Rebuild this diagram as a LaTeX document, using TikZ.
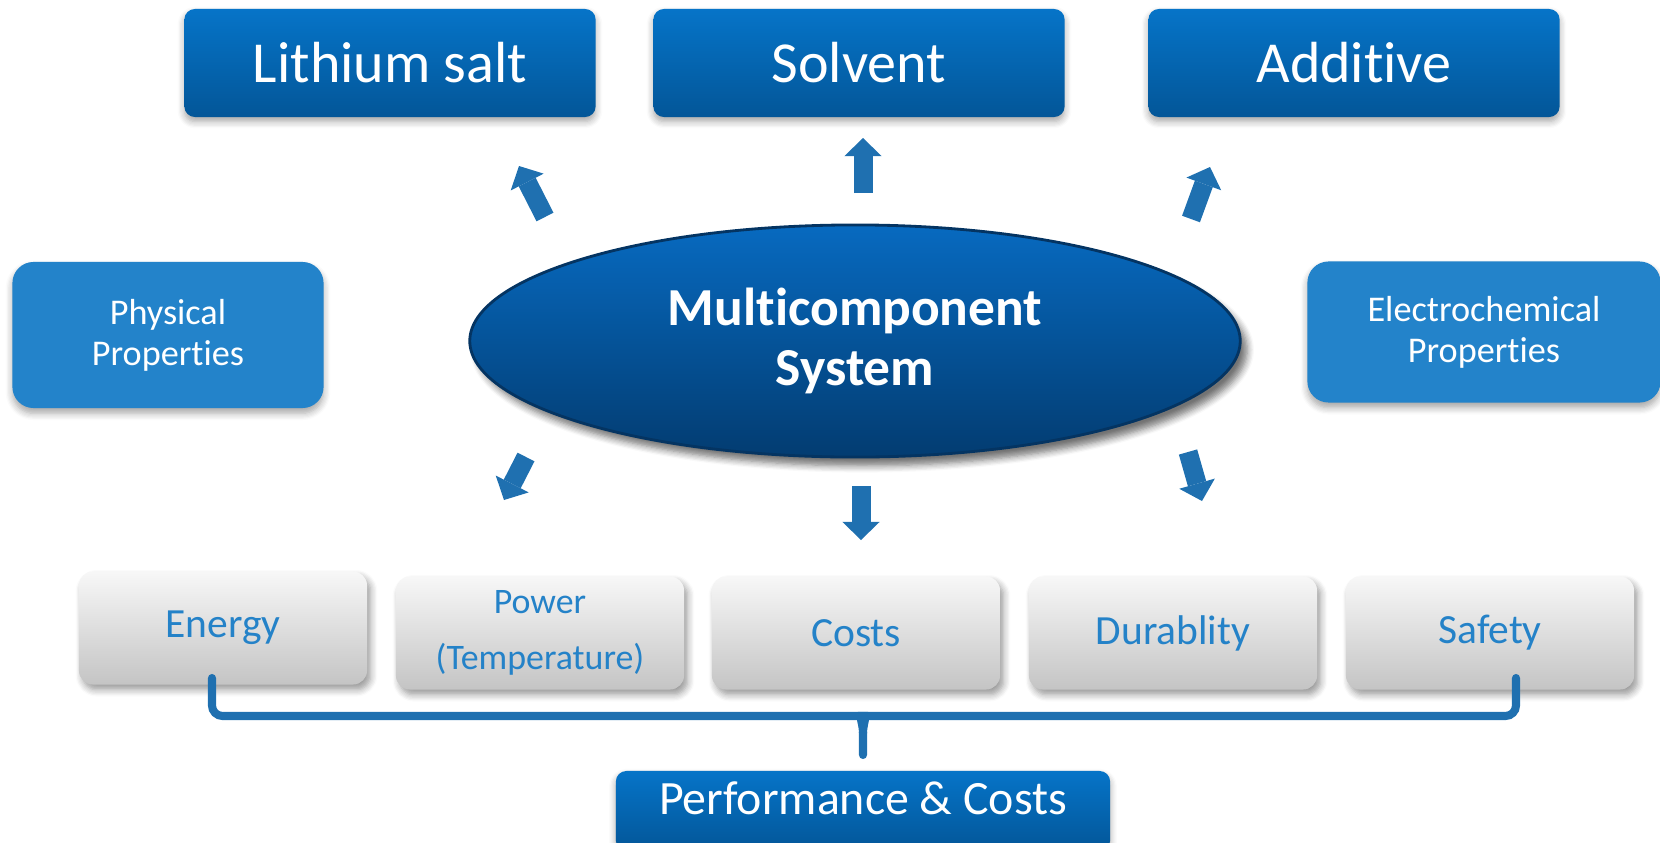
\documentclass[tikz,border=0pt]{standalone}
\usepackage{fontspec}
\setmainfont{Carlito}[Ligatures=NoCommon]
\usepackage{tkz-euclide}
\usetikzlibrary{arrows.meta,shapes.geometric,shadows.blur}
\definecolor{headlight}{RGB}{6,116,200}
\definecolor{headdark}{RGB}{3,86,152}
\definecolor{ovaltop}{RGB}{7,106,192}
\definecolor{ovalbottom}{RGB}{3,60,113}
\definecolor{ovalrim}{RGB}{4,52,98}
\definecolor{propblue}{RGB}{35,131,202}
\definecolor{arrowblue}{RGB}{31,112,176}
\definecolor{labelblue}{RGB}{36,130,200}

\begin{document}
\begin{tikzpicture}[x=0.01cm,y=0.01cm,
  comp/.style={rounded corners=3pt,top color=headlight,bottom color=headdark,text=white,
    minimum width=4.11cm,minimum height=1.08cm,inner sep=0pt,font=\fontsize{16.5}{20}\selectfont,
    blur shadow={shadow xshift=0pt,shadow yshift=-1.3pt,shadow opacity=35,shadow blur steps=6}},
  oval/.style={ellipse,minimum width=7.7cm,minimum height=2.32cm,inner sep=0pt,
    top color=ovaltop,bottom color=ovalbottom,draw=ovalrim,line width=0.8pt,text=white,align=center,
    font=\bfseries\fontsize{15.2}{17.3}\selectfont,
    blur shadow={shadow xshift=2pt,shadow yshift=-2.5pt,shadow opacity=55,shadow blur steps=6}},
  prop/.style={rounded corners=6pt,fill=propblue,text=white,align=center,inner sep=0pt,
    font=\fontsize{10.3}{11.6}\selectfont,
    blur shadow={shadow xshift=0pt,shadow yshift=-1.5pt,shadow opacity=35,shadow blur steps=6}},
  crit/.style={rounded corners=4pt,top color=black!3,bottom color=black!23,text=labelblue,
    minimum width=2.88cm,minimum height=1.13cm,inner sep=0pt,align=center,font=\fontsize{11.8}{14}\selectfont,
    blur shadow={shadow xshift=1pt,shadow yshift=-1.5pt,shadow opacity=40,shadow blur steps=6}},
  blockarrow/.style={draw=arrowblue,line width=0.19cm,-{Triangle[length=0.18cm,width=0.37cm,line width=0pt]}},
  brace/.style={draw=arrowblue,line width=2.3pt,line cap=round}]
\useasboundingbox (0,0) rectangle (1660,-842);
\node[comp] (salt) at (390,-63) {Lithium salt};
\node[comp] (solvent) at (859,-63) {Solvent};
\node[comp] (additive) at (1354,-63) {Additive};
\node[prop,minimum width=3.11cm,minimum height=1.46cm] (phys) at (168,-335) {Physical\\Properties};
\node[prop,minimum width=3.53cm,minimum height=1.41cm] (echem) at (1484,-332) {Electrochemical\\Properties};
\node[oval] (system) at (855,-341) {Multicomponent\\System};
\node[crit] (energy) at (223,-628) {Energy};
\node[crit,font=\fontsize{10.2}{16}\selectfont] (power) at (540,-633) {Power\\(Temperature)};
\node[crit] (costs) at (856,-633) {Costs};
\node[crit] (durab) at (1173,-633) {Durablity};
\node[crit] (safety) at (1490,-633) {Safety};
\node[comp,minimum width=4.94cm,minimum height=0.8cm,text depth=0.25cm,font=\fontsize{13.6}{15}\selectfont] (perf) at (863,-811) {Performance \& Costs};
\tkzDefPoints{545/-217/a1,519/-166/b1,863/-193/a2,863/-138/b2,1191/-219/a3,1210/-167/b3,
  526/-457/a4,504/-500/b4,861/-486/a5,861/-540/b5,1188/-452/a6,1202/-501/b6}
\foreach \i in {1,...,6} \draw[blockarrow] (a\i) -- (b\i);
\tkzDefPoints{212/-678/L,1516/-678/R,851/-716/P,875/-716/Q,863/-733/M,863/-755/N}
\draw[brace] (L) [rounded corners=3pt] |- (P) [sharp corners] to[out=0,in=90] (M) -- (N);
\draw[brace] (R) [rounded corners=3pt] |- (Q) [sharp corners] to[out=180,in=90] (M);
\end{tikzpicture}
\end{document}
